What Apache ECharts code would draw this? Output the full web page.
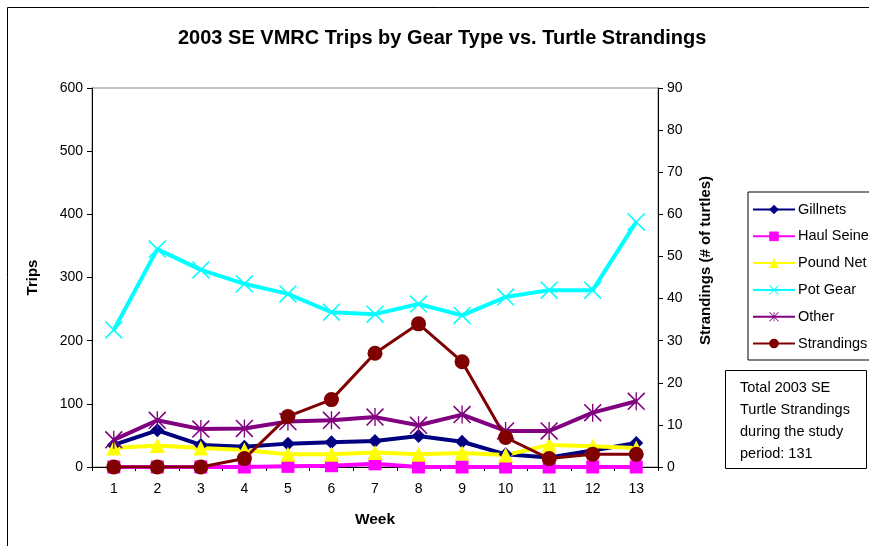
<!DOCTYPE html>
<html lang="en">
<head>
  <meta charset="UTF-8">
  <title>2003 SE VMRC Trips</title>
  <script src="https://cdn.jsdelivr.net/npm/echarts@6/dist/echarts.min.js"></script>
</head>
<body style="margin:0;background:#fff;">
  <div id="main" style="width:869px;height:546px;"></div>
  <script type="text/javascript">
    // weeks and series values
    var weeks = ['1', '2', '3', '4', '5', '6', '7', '8', '9', '10', '11', '12', '13'];
    var gillnets   = [35, 58, 35, 32, 37, 39, 41, 49, 40, 20, 15, 26, 38];
    var haulSeine  = [0, 0, 0, 0, 1, 2, 5, 0, 0, 0, 0, 0, 0];
    var poundNet   = [30, 34, 30, 27, 20, 20, 23, 20, 22, 19, 35, 33, 30];
    var potGear    = [217, 345, 312, 290, 274, 245, 242, 258, 240, 269, 280, 280, 388];
    var other      = [43, 74, 60, 61, 72, 74, 79, 66, 83, 57, 57, 86, 104];
    var strandings = [0, 0, 0, 2, 12, 16, 27, 34, 25, 7, 2, 3, 3];
    var noteLines = ['Total 2003 SE', 'Turtle Strandings', 'during the study', 'period: 131'];

    var FONT = '"Liberation Sans", Arial, sans-serif';
    // X and asterisk markers as filled thin bars
    var xMark = 'path://M0,1L1,0L16,15L15,16Z M15,0L16,1L1,16L0,15Z';
    var starMark = 'path://M0,1L1,0L16,15L15,16Z M15,0L16,1L1,16L0,15Z M7.4,0L8.6,0L8.6,16L7.4,16Z';

    function mkLine(name, data, color, symbol, size, width, yIdx) {
      return {
        name: name,
        type: 'line',
        yAxisIndex: yIdx || 0,
        data: data,
        symbol: symbol,
        symbolSize: size,
        showAllSymbol: true,
        lineStyle: { color: color, width: width },
        itemStyle: { color: color, borderWidth: 0 },
        animation: false
      };
    }

    var myChart = echarts.init(document.getElementById('main'));

    var noteText = [];
    for (var i = 0; i < noteLines.length; i++) {
      noteText.push({
        type: 'text',
        left: 740,
        top: 380 + i * 22,
        style: { text: noteLines[i], font: '14.5px ' + FONT, fill: '#000' }
      });
    }

    var option = {
      backgroundColor: '#fff',
      textStyle: { fontFamily: FONT },
      title: {
        text: '2003 SE VMRC Trips by Gear Type vs. Turtle Strandings',
        left: 173,
        top: 23,
        textStyle: { fontSize: 20, fontWeight: 'bold', color: '#000', fontFamily: FONT }
      },
      legend: {
        orient: 'vertical',
        left: 748,
        top: 192,
        padding: [10, 8, 9, 4],
        itemGap: 11.8,
        itemWidth: 42,
        itemHeight: 12,
        borderColor: '#000',
        borderWidth: 1,
        borderRadius: 0,
        textStyle: { fontSize: 14.5, color: '#000', fontFamily: FONT, padding: [0, 0, 0, -2] },
        data: ['Gillnets', 'Haul Seine', 'Pound Net', 'Pot Gear', 'Other', 'Strandings']
      },
      grid: {
        left: 92, right: 211, top: 88, bottom: 79,
        show: true, borderColor: '#888', borderWidth: 1
      },
      xAxis: {
        type: 'category',
        data: weeks,
        name: 'Week',
        nameLocation: 'middle',
        nameGap: 45,
        nameTextStyle: { fontSize: 15.5, fontWeight: 'bold', color: '#000' },
        axisLine: { lineStyle: { color: '#000' } },
        axisTick: { show: true, length: 4, lineStyle: { color: '#000' } },
        axisLabel: { fontSize: 14, color: '#000', margin: 15 }
      },
      yAxis: [{
        type: 'value',
        min: 0, max: 600, interval: 100,
        name: 'Trips',
        nameLocation: 'middle',
        nameGap: 52,
        nameTextStyle: { fontSize: 15, fontWeight: 'bold', color: '#000' },
        axisLine: { show: true, lineStyle: { color: '#000' } },
        axisTick: { show: true, length: 5, lineStyle: { color: '#000' } },
        axisLabel: { fontSize: 14, color: '#000', margin: 9 },
        splitLine: { show: false }
      }, {
        type: 'value',
        min: 0, max: 90, interval: 10,
        position: 'right',
        name: 'Strandings (# of turtles)',
        nameLocation: 'middle',
        nameGap: 40,
        nameTextStyle: { fontSize: 15, fontWeight: 'bold', color: '#000', padding: [0, 0, 0, 34] },
        axisLine: { show: true, lineStyle: { color: '#000' } },
        axisTick: { show: true, length: 5, lineStyle: { color: '#000' } },
        axisLabel: { fontSize: 14, color: '#000', margin: 9 },
        splitLine: { show: false }
      }],
      graphic: [{
        type: 'rect',
        left: 5, top: 5,
        shape: { width: 900, height: 600 },
        style: { fill: 'none', stroke: '#000', lineWidth: 1 },
        silent: true
      }, {
        type: 'rect',
        left: 725, top: 370,
        shape: { width: 141, height: 98 },
        style: { fill: '#fff', stroke: '#000', lineWidth: 1 }
      }].concat(noteText),
      series: [
        mkLine('Gillnets', gillnets, '#000080', 'diamond', 14, 4),
        mkLine('Haul Seine', haulSeine, '#FF00FF', 'rect', 13, 4),
        mkLine('Pound Net', poundNet, '#FFFF00', 'triangle', 15, 4),
        mkLine('Pot Gear', potGear, '#00FFFF', xMark, 18, 4),
        mkLine('Other', other, '#800080', starMark, 18, 4),
        mkLine('Strandings', strandings, '#800000', 'circle', 15, 3, 1)
      ]
    };

    myChart.setOption(option);
  </script>
</body>
</html>
